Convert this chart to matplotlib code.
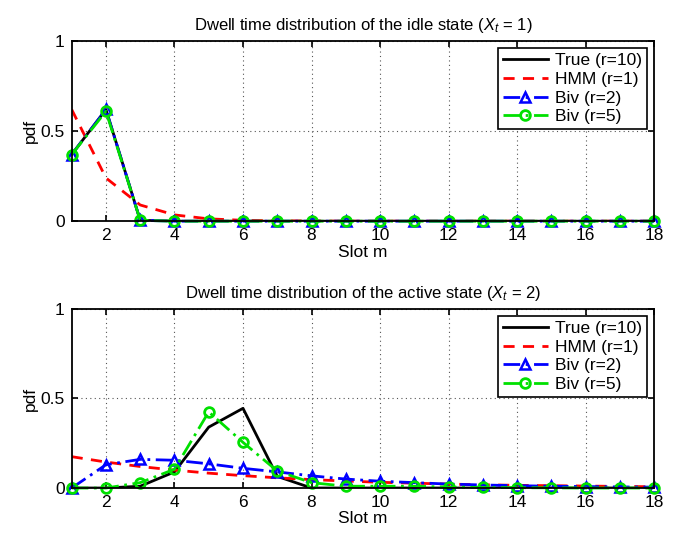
import matplotlib
matplotlib.use("Agg")
import matplotlib.pyplot as plt

plt.rcParams["font.family"] = ["Liberation Sans", "DejaVu Sans"]
plt.rcParams["mathtext.fontset"] = "custom"
plt.rcParams["mathtext.rm"] = "Liberation Sans"
plt.rcParams["mathtext.it"] = "Liberation Sans:italic"

slots = list(range(1, 19))

# idle state (X_t = 1)
idle_true = [0.37, 0.62, 0.005, 0, 0, 0, 0, 0, 0, 0, 0, 0, 0, 0, 0, 0, 0, 0]
idle_hmm = [0.62, 0.24, 0.09, 0.035, 0.013, 0.005, 0.002, 0.001, 0, 0, 0, 0, 0, 0, 0, 0, 0, 0]
idle_biv2 = [0.37, 0.62, 0.005, 0, 0, 0, 0, 0, 0, 0, 0, 0, 0, 0, 0, 0, 0, 0]
idle_biv5 = [0.37, 0.61, 0.005, 0, 0, 0, 0, 0, 0, 0, 0, 0, 0, 0, 0, 0, 0, 0]

# active state (X_t = 2)
act_true = [0, 0, 0.01, 0.09, 0.34, 0.445, 0.065, 0, 0, 0, 0, 0, 0, 0, 0, 0, 0, 0]
act_hmm = [0.175, 0.145, 0.12, 0.1, 0.083, 0.069, 0.057, 0.047, 0.039, 0.032,
           0.027, 0.022, 0.018, 0.015, 0.013, 0.011, 0.009, 0.007]
act_biv2 = [0, 0.13, 0.16, 0.155, 0.135, 0.11, 0.09, 0.068, 0.05, 0.038,
            0.03, 0.022, 0.017, 0.013, 0.01, 0.008, 0.006, 0.005]
act_biv5 = [0, 0, 0.03, 0.105, 0.425, 0.255, 0.095, 0.03, 0.01, 0.01,
            0.01, 0.005, 0.003, 0.002, 0.001, 0, 0, 0]

labels = ["True (r=10)", "HMM (r=1)", "Biv (r=2)", "Biv (r=5)"]
titles = [r"Dwell time distribution of the idle state ($X_t$ = $\mathit{1}$)",
          r"Dwell time distribution of the active state ($X_t$ = $\mathit{2}$)"]


def draw(ax, true, hmm, biv2, biv5, title):
    ax.plot(slots, true, color="black", lw=2, ls="-", label=labels[0])
    ax.plot(slots, hmm, color="red", lw=2, ls=(0, (4, 3)), label=labels[1])
    ax.plot(slots, biv2, color="blue", lw=2, ls=(0, (6, 2, 1, 2)), marker="^",
            ms=7, mfc="none", mec="blue", mew=1.8, label=labels[2], clip_on=False)
    ax.plot(slots, biv5, color="#00e000", lw=2, ls=(0, (6, 2, 1, 2)), marker="o",
            ms=7, mfc="none", mec="#00e000", mew=2, label=labels[3], clip_on=False)
    ax.set_xlim(1, 18)
    ax.set_ylim(0, 1)
    ax.set_xticks(range(2, 19, 2))
    ax.set_yticks([0, 0.5, 1])
    ax.set_yticklabels(["0", "0.5", "1"])
    ax.tick_params(direction="in", top=True, right=True, labelsize=12.5, length=4,
                   width=1.2, pad=5)
    for sp in ax.spines.values():
        sp.set_linewidth(1.3)
    ax.grid(True, ls=(0, (1, 3)), color="#555555", lw=0.8)
    ax.set_xlabel("Slot m", fontsize=12.5, labelpad=1)
    ax.set_ylabel("pdf", fontsize=12.5, labelpad=2)
    ax.set_title(title, fontsize=12, pad=8)
    leg = ax.legend(loc="upper right", fontsize=12.5, fancybox=False, framealpha=1,
                    edgecolor="black", handlelength=2.6, borderpad=0.3,
                    labelspacing=0.2, handletextpad=0.4, borderaxespad=0.4)
    leg.get_frame().set_linewidth(1.2)


fig = plt.figure(figsize=(6.86, 5.33), dpi=100)
ax1 = fig.add_axes([0.1045, 0.585, 0.849, 0.338])
ax2 = fig.add_axes([0.1045, 0.0844, 0.849, 0.336])
draw(ax1, idle_true, idle_hmm, idle_biv2, idle_biv5, titles[0])
draw(ax2, act_true, act_hmm, act_biv2, act_biv5, titles[1])

fig.savefig("out.png", dpi=100)
